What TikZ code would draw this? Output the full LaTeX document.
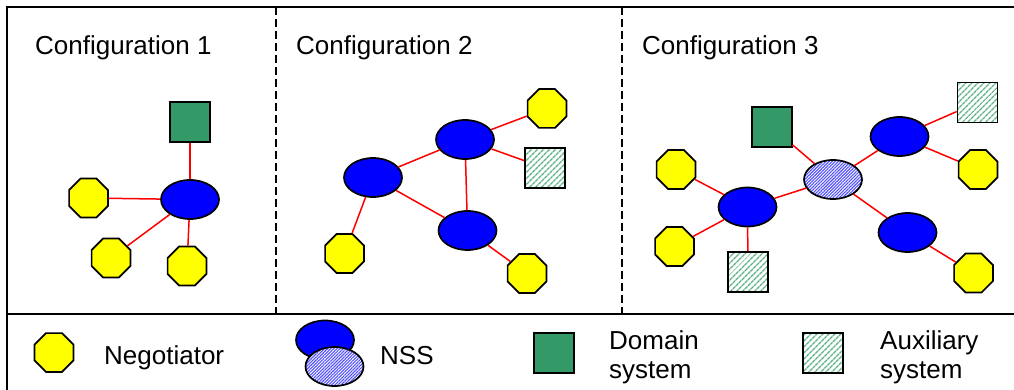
\documentclass[tikz,border=0pt]{standalone}
\usepackage{fontspec}
\setmainfont{Liberation Sans}
\usetikzlibrary{shapes.geometric,patterns.meta}

\definecolor{negyellow}{HTML}{FFFF00}
\definecolor{nssblue}{HTML}{0000FF}
\definecolor{domgreen}{HTML}{339966}
\definecolor{auxgreen}{HTML}{5CB386}
\definecolor{hatchblue}{HTML}{5050FF}
\definecolor{linkred}{HTML}{FF0000}

\tikzset{
  outline/.style={draw=black, line width=1.7pt},
  negotiator/.style={outline, regular polygon, regular polygon sides=8,
    minimum size=42pt, inner sep=0pt, fill=negyellow},
  nss/.style={outline, ellipse, minimum width=58pt, minimum height=39pt,
    inner sep=0pt, fill=nssblue},
  nsshatch/.style={outline, ellipse, minimum width=58pt, minimum height=39pt,
    inner sep=0pt, preaction={fill=white},
    pattern={Lines[angle=45,distance=2.2pt,line width=1.1pt]},
    pattern color=hatchblue},
  domsys/.style={outline, rectangle, minimum size=40pt, inner sep=0pt,
    fill=domgreen},
  auxsys/.style={outline, rectangle, minimum size=40pt, inner sep=0pt,
    preaction={fill=white},
    pattern={Lines[angle=45,distance=4pt,line width=1.4pt]},
    pattern color=auxgreen},
  link/.style={draw=linkred, line width=1.5pt},
  frame/.style={draw=black, line width=1.7pt},
  divider/.style={draw=black, line width=1.4pt, dash pattern=on 8pt off 4pt},
  txt/.style={anchor=base west, inner sep=0pt,
    font=\fontsize{26}{29}\selectfont, align=left},
}

\begin{document}
\begin{tikzpicture}[x=1pt, y=-1pt]
\useasboundingbox (0,0) rectangle (1014,390);
\clip (0,0) rectangle (1014,390);

% outer frame and separators
\draw[frame] (7,400) -- (7,7) -- (1030,7);
\draw[frame] (7,314) -- (1030,314);
\draw[divider] (276,7) -- (276,314);
\draw[divider] (622,7) -- (622,314);

% titles
\node[txt] (t1) at (35,55) {Configuration 1};
\node[txt] (t2) at (296,55) {Configuration 2};
\node[txt] (t3) at (642,55) {Configuration 3};

% configuration 1
\node[domsys]     (c1d) at (190,122) {};
\node[nss]        (c1n) at (190,199.5) {};
\node[negotiator] (c1a) at (88.5,198) {};
\node[negotiator] (c1b) at (111,258) {};
\node[negotiator] (c1c) at (187,266) {};
\draw[link] (c1d) -- (c1n);
\draw[link] (c1n) -- (c1a);
\draw[link] (c1n) -- (c1b);
\draw[link] (c1n) -- (c1c);

% configuration 2
\node[nss]        (c2t) at (465,139.5) {};
\node[nss]        (c2l) at (373,177.5) {};
\node[nss]        (c2b) at (467.5,230.5) {};
\node[negotiator] (c2x) at (547,108.5) {};
\node[auxsys]     (c2s) at (545,168) {};
\node[negotiator] (c2y) at (344.5,253.5) {};
\node[negotiator] (c2z) at (527,273.5) {};
\draw[link] (c2t) -- (c2x);
\draw[link] (c2t) -- (c2s);
\draw[link] (c2t) -- (c2l);
\draw[link] (c2t) -- (c2b);
\draw[link] (c2l) -- (c2b);
\draw[link] (c2l) -- (c2y);
\draw[link] (c2b) -- (c2z);

% configuration 3
\node[auxsys]     (c3s1) at (977.5,102.5) {};
\node[domsys]     (c3d)  at (771.7,127) {};
\node[nss]        (c3e1) at (899.5,136.5) {};
\node[negotiator] (c3n1) at (978,169.5) {};
\node[negotiator] (c3n2) at (676,169.5) {};
\node[nsshatch]   (c3h)  at (833,179.5) {};
\node[nss]        (c3e2) at (747.5,207) {};
\node[nss]        (c3e3) at (907.5,232.5) {};
\node[negotiator] (c3n3) at (674.5,246.5) {};
\node[auxsys]     (c3s2) at (748,272) {};
\node[negotiator] (c3n4) at (973.5,273) {};
\draw[link] (c3d)  -- (c3h);
\draw[link] (c3h)  -- (c3e1);
\draw[link] (c3e1) -- (c3s1);
\draw[link] (c3e1) -- (c3n1);
\draw[link] (c3h)  -- (c3e2);
\draw[link] (c3e2) -- (c3n2);
\draw[link] (c3e2) -- (c3n3);
\draw[link] (c3e2) -- (c3s2);
\draw[link] (c3h)  -- (c3e3);
\draw[link] (c3e3) -- (c3n4);

% legend
\node[negotiator] (lg1) at (54,352.5) {};
\node[txt] (lt1) at (104,364) {Negotiator};
\node[nss]      (lgA) at (325,340) {};
\node[nsshatch] (lgB) at (334.5,366.5) {};
\node[txt] (lt2) at (380,364) {NSS};
\node[domsys] (lgD) at (554,353) {};
\node[txt] (lt3) at (609,378) {Domain\\system};
\node[auxsys] (lgS) at (823,353) {};
\node[txt] (lt4) at (880,378) {Auxiliary\\system};
\end{tikzpicture}
\end{document}
